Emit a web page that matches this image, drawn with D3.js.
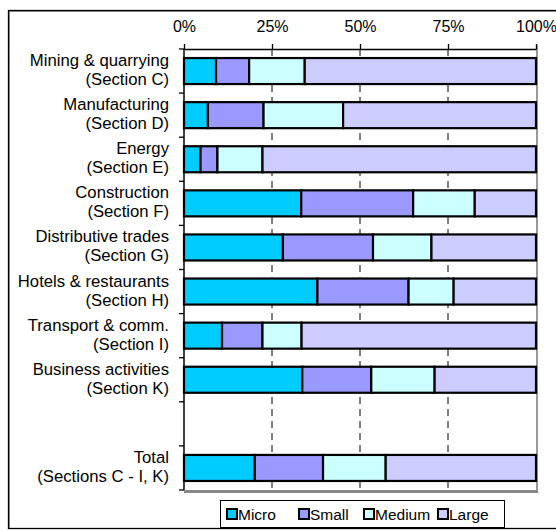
<!DOCTYPE html>
<html><head><meta charset="utf-8">
<script src="https://cdn.jsdelivr.net/npm/d3@7"></script>
<style>
body{margin:0;background:#fff;}
text{font-family:"Liberation Sans",Arial,sans-serif;fill:#000;}
</style></head>
<body><svg id="c" width="556" height="531"></svg>
<script>
const categories = ["Mining & quarrying|(Section C)","Manufacturing|(Section D)","Energy|(Section E)","Construction|(Section F)","Distributive trades|(Section G)","Hotels & restaurants|(Section H)","Transport & comm.|(Section I)","Business activities|(Section K)","","Total|(Sections C - I, K)"];
const micro  = [9.1, 6.8, 4.7, 33.3, 28.1, 37.9, 10.8, 33.6, null, 20.1];
const small  = [9.4, 15.8, 4.8, 31.8, 25.6, 25.9, 11.5, 19.6, null, 19.4];
const medium = [15.8, 22.6, 12.8, 17.5, 16.6, 12.8, 11.1, 18.0, null, 17.8];
const large  = [65.7, 54.8, 77.7, 17.4, 29.7, 23.4, 66.6, 28.8, null, 42.7];
const seriesNames = ["Micro","Small","Medium","Large"];
const seriesColors = ["#00CCFF","#9999FF","#CCFFFF","#CCCCFF"];
const tickValues = [0,25,50,75,100];

const svg = d3.select("#c");
// outer frame
svg.append("rect").attr("x",9.5).attr("y",11.5).attr("width",600).attr("height",517)
  .attr("fill","none").attr("stroke","#999").attr("stroke-width",1);
svg.append("rect").attr("x",8.5).attr("y",10.5).attr("width",600).attr("height",518)
  .attr("fill","none").attr("stroke","#000").attr("stroke-width",1.3);

const pL=184, pR=536, pT=49, pB=490;
const x = d3.scaleLinear().domain([0,100]).range([pL,pR]);
const y = d3.scaleBand().domain(categories.map((c,i)=>i)).range([pT,pB]).paddingInner(0.41).paddingOuter(0.205);
const slot = d3.scaleBand().domain(categories.map((c,i)=>i)).range([pT,pB]).padding(0);

// plot shadow (right / bottom gray)
svg.append("line").attr("x1",pR+1).attr("x2",pR+1).attr("y1",pT-4).attr("y2",pB+2)
  .attr("stroke","#999").attr("stroke-width",2);
svg.append("line").attr("x1",pL).attr("x2",pR+2).attr("y1",pB+1.5).attr("y2",pB+1.5)
  .attr("stroke","#888").attr("stroke-width",3);

// gridlines
svg.append("g").selectAll("line").data([25,50,75]).join("line")
  .attr("x1",d=>x(d)).attr("x2",d=>x(d)).attr("y1",pT).attr("y2",pB)
  .attr("stroke","#000").attr("stroke-width",1).attr("stroke-dasharray","7,5");

// top axis
const ax = svg.append("g").attr("transform",`translate(0,${pT})`)
  .call(d3.axisTop(x).tickValues(tickValues).tickFormat(d=>d+"%").tickSize(5).tickSizeOuter(0));
ax.select(".domain").attr("stroke","#000").attr("stroke-width",1.5);
ax.selectAll(".tick line").attr("stroke","#000").attr("stroke-width",1.3);
ax.selectAll(".tick text").attr("font-size",16).attr("font-family","Liberation Sans, Arial").attr("dy",0).attr("y",-17);

// left axis
svg.append("line").attr("x1",pL).attr("x2",pL).attr("y1",pT).attr("y2",pB)
  .attr("stroke","#000").attr("stroke-width",1.5);
const bounds = categories.map((c,i)=>slot(i)).concat([pB]);
svg.append("g").selectAll("line").data(bounds).join("line")
  .attr("x1",pL-5).attr("x2",pL).attr("y1",d=>d).attr("y2",d=>d)
  .attr("stroke","#000").attr("stroke-width",1.3);

// category labels
const lab = svg.append("g").selectAll("text").data(categories).join("text")
  .attr("text-anchor","end").attr("font-size",16.7)
  .attr("transform",(d,i)=>`translate(169,${slot(i)+slot.bandwidth()/2})`);
lab.each(function(d){
  const lines = d ? d.split("|") : [];
  d3.select(this).selectAll("tspan").data(lines).join("tspan")
    .attr("x",0).attr("y",(l,j)=>j===0?-5:14).text(l=>l);
});

// stacked bars
const rows = categories.map((c,i)=>({i, Micro:micro[i], Small:small[i], Medium:medium[i], Large:large[i]}))
  .filter(r=>r.Micro!=null);
const stack = d3.stack().keys(seriesNames)(rows);
svg.append("g").selectAll("g").data(stack).join("g")
  .attr("fill",(d,k)=>seriesColors[k])
  .selectAll("rect").data(d=>d).join("rect")
  .attr("x",d=>x(d[0])).attr("width",d=>x(d[1])-x(d[0]))
  .attr("y",d=>y(d.data.i)).attr("height",y.bandwidth())
  .attr("stroke","#000").attr("stroke-width",2.2);

// legend
const lg = svg.append("g");
lg.append("rect").attr("x",220.5).attr("y",500.5).attr("width",284).attr("height",27)
  .attr("fill","#fff").attr("stroke","#000").attr("stroke-width",1);
const legX = [226, 298, 363, 437];
const li = lg.selectAll("g.it").data(seriesNames).join("g").attr("class","it")
  .attr("transform",(d,k)=>`translate(${legX[k]},508)`);
li.append("rect").attr("x",1).attr("y",1).attr("width",10).attr("height",10)
  .attr("fill",(d,k)=>seriesColors[k]).attr("stroke","#000").attr("stroke-width",2);
li.append("text").attr("x",12).attr("y",12).attr("font-size",15.5).text(d=>d);
</script></body></html>
